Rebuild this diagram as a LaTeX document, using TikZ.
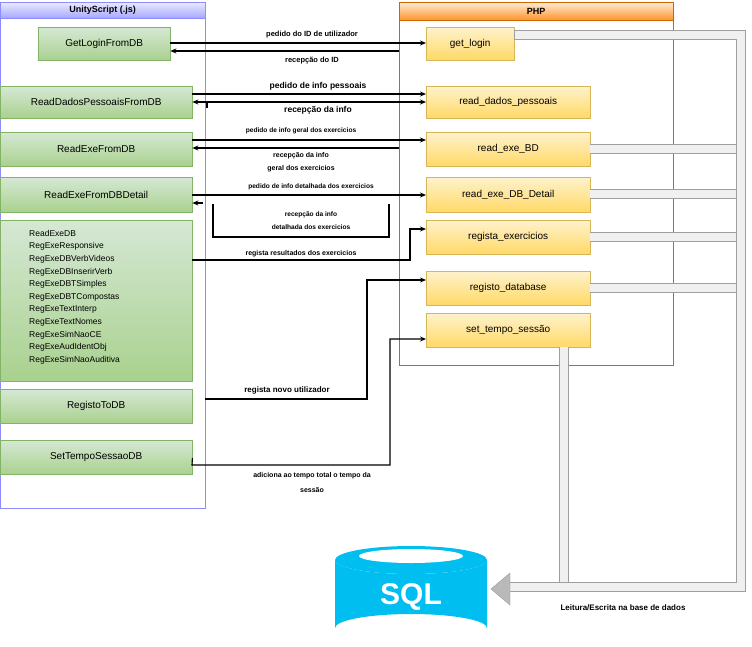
\documentclass[tikz,border=0pt]{standalone}
\usepackage{fontspec}
\setmainfont{Liberation Sans}
\usetikzlibrary{arrows.meta,shapes.geometric}
\definecolor{gfill}{HTML}{A9D18E}
\definecolor{gtop}{HTML}{D5E8D4}
\definecolor{gdraw}{HTML}{82B366}
\definecolor{ofill}{HTML}{FFD966}
\definecolor{otop}{HTML}{FFF2CC}
\definecolor{odraw}{HTML}{D6B656}
\definecolor{sqlc}{HTML}{00BEF0}
\begin{document}
\begin{tikzpicture}[x=1pt,y=-1pt,
  gbox/.style={draw=gdraw,top color=gtop,bottom color=gfill,font=\fontsize{10}{12}\selectfont,inner sep=0pt,anchor=north west},
  obox/.style={draw=odraw,top color=otop,bottom color=ofill,font=\fontsize{10}{12}\selectfont,inner sep=0pt,anchor=north west},
  lab/.style={font=\bfseries\fontsize{7.5}{9}\selectfont,align=center,inner sep=1pt},
  con/.style={line width=1.3pt,-{Stealth[length=6pt,width=5pt]}},
  thin/.style={line width=1.1pt,-{Stealth[length=6pt,width=5pt]}},
  pipeo/.style={draw=gray!75,line width=10pt},
  pipei/.style={draw=gray!12,line width=7.5pt}]
\useasboundingbox (0,0) rectangle (752,646);
% containers
\node[draw=blue!45,line width=0.8pt,minimum width=205pt,minimum height=506pt,anchor=north west,inner sep=0pt] (uc) at (0,2) {};
\node[draw=blue!45,top color=blue!8,bottom color=blue!35,minimum width=205pt,minimum height=16pt,anchor=north west,inner sep=0pt,font=\bfseries\fontsize{9}{10}\selectfont] (uh) at (0,2) {UnityScript (.js)};
\node[draw=orange!80!black,line width=0.8pt,minimum width=274pt,minimum height=363pt,anchor=north west,inner sep=0pt] (pc) at (399,2) {};
\node[draw=orange!80!black,top color=orange!15,bottom color=orange!85,minimum width=274pt,minimum height=18pt,anchor=north west,inner sep=0pt,font=\bfseries\fontsize{9}{10}\selectfont] (ph) at (399,2) {PHP};
% green boxes
\node[gbox,minimum width=132pt,minimum height=33pt] (g1) at (38,27) {GetLoginFromDB};
\node[gbox,minimum width=192pt,minimum height=32pt] (g2) at (0,86) {ReadDadosPessoaisFromDB};
\node[gbox,minimum width=192pt,minimum height=34pt] (g3) at (0,132) {ReadExeFromDB};
\node[gbox,minimum width=192pt,minimum height=35pt] (g4) at (0,177) {ReadExeFromDBDetail};
\node[gbox,minimum width=192pt,minimum height=161pt] (g5) at (0,220) {};
\node[font=\fontsize{8.5}{12.6}\selectfont,align=left,anchor=north west,inner sep=0pt] (g5t) at (29,230) {ReadExeDB\\RegExeResponsive\\RegExeDBVerbVideos\\RegExeDBInserirVerb\\RegExeDBTSimples\\RegExeDBTCompostas\\RegExeTextInterp\\RegExeTextNomes\\RegExeSimNaoCE\\RegExeAudIdentObj\\RegExeSimNaoAuditiva};
\node[gbox,minimum width=192pt,minimum height=34pt] (g6) at (0,389) {RegistoToDB};
\node[gbox,minimum width=192pt,minimum height=34pt] (g7) at (0,440) {SetTempoSessaoDB};
% orange boxes
\node[obox,minimum width=88pt,minimum height=33pt] (o1) at (426,27) {get\_login};
\node[obox,minimum width=164pt,minimum height=32pt] (o2) at (426,86) {read\_dados\_pessoais};
\node[obox,minimum width=164pt,minimum height=34pt] (o3) at (426,132) {read\_exe\_BD};
\node[obox,minimum width=164pt,minimum height=35pt] (o4) at (426,177) {read\_exe\_DB\_Detail};
\node[obox,minimum width=164pt,minimum height=34pt] (o5) at (426,220) {regista\_exercicios};
\node[obox,minimum width=164pt,minimum height=34pt] (o6) at (426,271) {registo\_database};
\node[obox,minimum width=164pt,minimum height=34pt] (o7) at (426,313) {set\_tempo\_sessão};
% connectors
\draw[thin] (g1.east |- 0,43) -- (o1.west |- 0,43);
\node[lab] (l1) at (312,35) {pedido do ID de utilizador};
\draw[thin] (pc.west |- 0,51) -- (g1.east |- 0,51);
\node[lab] (l2) at (312,61) {recepção do ID};
\draw[con,line width=1.8pt] (g2.east |- 0,94) -- (o2.west |- 0,94);
\node[lab,font=\bfseries\fontsize{8.5}{10}\selectfont] (l3) at (318,86) {pedido de info pessoais};
\draw[con,line width=1.5pt,{Stealth[length=6pt,width=5pt]}-{Stealth[length=6pt,width=5pt]}] (g2.east |- 0,102) -- (o2.west |- 0,102);
\draw[line width=1.2pt] (207,102) -- (207,108);
\node[lab,font=\bfseries\fontsize{8.5}{10}\selectfont] (l4) at (318,110) {recepção da info};
\draw[thin] (g3.east |- 0,140) -- (o3.west |- 0,140);
\node[lab,font=\bfseries\fontsize{6.6}{8}\selectfont] (l5) at (301,131) {pedido de info geral dos exercicios};
\draw[thin] (pc.west |- 0,148) -- (g3.east |- 0,148);
\node[lab,font=\bfseries\fontsize{7}{12.5}\selectfont] (l6) at (301,162) {recepção da info\\geral dos exercicios};
\draw[thin] (g4.east |- 0,195) -- (o4.west |- 0,195);
\node[lab,font=\bfseries\fontsize{6.6}{8}\selectfont] (l7) at (311,187) {pedido de info detalhada dos exercicios};
\coordinate (t1) at (203,203);
\draw[thin] (t1) -- (g4.east |- 0,203);
\draw[line width=1.1pt] (213,204) -- (213,237) -- (389,237) -- (389,204);
\node[lab,font=\bfseries\fontsize{6.6}{13}\selectfont] (l8) at (311,221) {recepção da info\\detalhada dos exercicios};
\draw[line width=1.8pt] (g5.east |- 0,260) -- (399,260);
\draw[thin] (399,260) -- (410,260) -- (410,229) -- (o5.west |- 0,229);
\node[lab,font=\bfseries\fontsize{7}{8}\selectfont] (l9) at (301,254) {regista resultados dos exercicios};
\draw[thin] (205,399) -- (367,399) -- (367,280) -- (o6.west |- 0,280);
\node[lab,font=\bfseries\fontsize{8}{9}\selectfont] (l10) at (287,390) {regista novo utilizador};
\draw[thin] (g7.east |- 0,458) -- (192,465) -- (390,465) -- (390,339) -- (o7.west |- 0,339);
\node[lab,font=\bfseries\fontsize{7}{15}\selectfont] (l11) at (312,482) {adiciona ao tempo total o tempo da\\sessão};
% pipes
\foreach \yy/\nn in {149/o3,194/o4,237/o5,288/o6}{
  \draw[pipeo] (\nn.east |- 0,\yy) -- (737,\yy);
  \draw[pipei] (\nn.east |- 0,\yy) -- (737,\yy);}
\draw[pipeo] (564,347) -- (564,583);
\draw[pipei] (564,347) -- (564,583);
\draw[pipeo] (o1.east |- 0,35) -- (741,35) -- (741,587) -- (510,587);
\draw[pipei] (o1.east |- 0,35) -- (741,35) -- (741,587) -- (510,587);
\draw[gray!75,line width=1.2pt] (o1.east |- 0,30) -- (o1.east |- 0,40);
% SQL cylinder
\fill[sqlc] (335,560) -- (335,628) arc[start angle=180,end angle=360,x radius=76,y radius=14] -- (487,560) arc[start angle=0,end angle=180,x radius=76,y radius=14];
\fill[sqlc] (411,560) ellipse[x radius=76,y radius=14];
\node[fill=white,ellipse,minimum width=104pt,minimum height=14pt,inner sep=0pt] (sqlin) at (411,556) {};
\node[text=white,font=\bfseries\fontsize{30}{30}\selectfont,inner sep=0pt] (sql) at (411,597) {SQL};
% big arrow head
\fill[gray!55,draw=gray!80] (510,582) -- (510,573) -- (491,589) -- (510,605) -- (510,594) -- cycle;
\node[lab,font=\bfseries\fontsize{8}{9}\selectfont] (l12) at (623,608) {Leitura/Escrita na base de dados};
\end{tikzpicture}
\end{document}
